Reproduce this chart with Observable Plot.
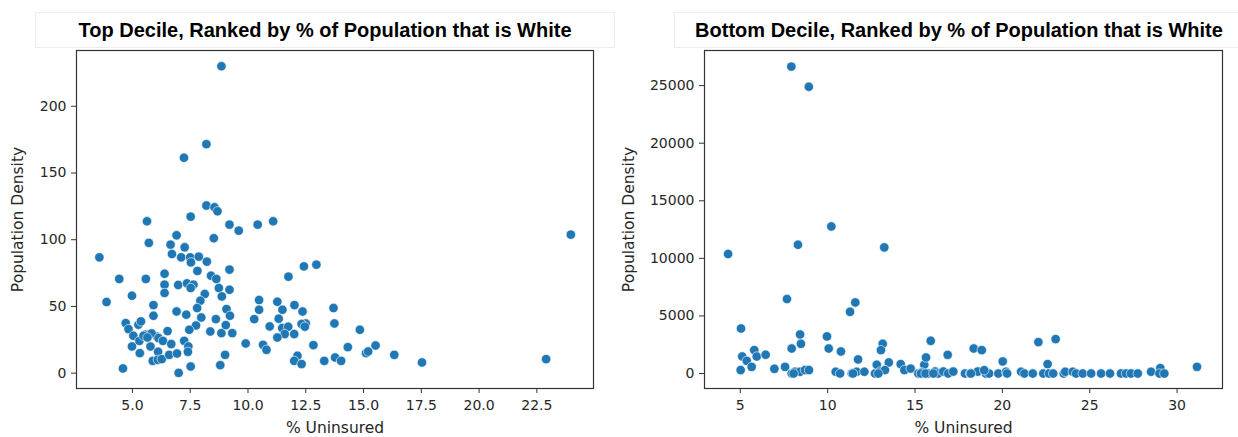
<!DOCTYPE html>
<html>
<head>
<meta charset="utf-8">
<script src="https://cdn.jsdelivr.net/npm/d3@7"></script>
<script src="https://cdn.jsdelivr.net/npm/@observablehq/plot@0.6"></script>
<style>
  html, body { margin: 0; padding: 0; background: #fff; }
  #wrap { position: relative; width: 1238px; height: 437px; overflow: hidden; }
  .panel { position: absolute; top: 0; }
  .title { position: absolute; top: 12px; height: 36px; border: 1px solid #ececec;
           font: bold 20px "Liberation Sans", Arial, sans-serif; line-height: 34px; color: #000; text-align: center; box-sizing: border-box; }
</style>
</head>
<body>
<div id="wrap"></div>
<script>
// ---- data: Top decile (left panel) ----
const topUninsured = [8.85,8.2,7.23,8.2,8.55,8.68,7.52,5.63,9.2,9.6,10.42,11.09,6.91,8.52,5.71,6.65,7.26,6.71,7.11,7.5,7.87,7.53,8.22,3.57,9.2,7.81,6.39,4.43,5.58,8.4,8.63,6.39,6.98,7.36,7.64,7.52,8.74,9.2,6.39,8.13,8.87,4.98,3.88,5.91,7.94,7.8,6.91,9.07,7.33,5.91,7.98,9.22,8.61,10.48,10.48,10.27,11.27,11.49,11.33,12.01,12.36,11.75,12.42,12.96,13.7,13.74,12.5,12.32,10.94,11.48,11.74,11.59,12.0,11.27,9.9,10.65,10.8,12.83,12.14,12.0,12.32,13.3,13.77,14.03,14.32,14.84,15.11,15.2,15.52,16.33,17.53,22.9,23.97,9.32,8.85,8.37,9.04,7.75,7.46,6.52,6.06,5.58,5.26,4.71,4.83,5.37,5.04,5.3,5.83,4.98,5.32,5.78,6.13,6.32,6.68,7.24,7.42,6.11,5.88,6.1,6.27,6.59,6.93,7.4,7.52,7.0,4.59,8.8,9.01,5.48,12.46,5.65];
const topDensity   = [230,171.6,161.4,125.6,124.3,121.3,117.3,113.8,111.3,106.8,111.3,113.8,103.3,101.1,97.6,96.3,94.3,89.3,86.8,86.8,87.3,83.0,83.6,86.8,77.6,76.6,74.5,70.6,70.6,73.0,70.6,66.3,66.1,67.3,66.3,63.8,63.8,62.5,60.1,59.3,57.5,58.0,53.3,51.0,54.3,48.8,46.2,48.0,43.8,43.0,41.7,43.0,40.5,54.8,47.5,40.5,53.5,47.5,40.8,51.0,46.2,72.3,80.0,81.3,48.8,37.2,37.2,36.8,35.0,33.8,34.8,29.3,29.3,26.7,22.2,21.2,17.5,21.0,13.0,9.2,6.8,9.2,11.7,9.2,19.5,32.5,15.0,16.2,20.7,13.7,8.0,10.5,103.8,30.0,30.0,31.2,36.0,35.7,32.5,31.5,27.3,28.8,36.3,37.5,33.0,38.8,28.0,24.2,29.8,20.0,15.0,20.0,26.3,24.2,21.8,24.2,20.0,16.0,9.2,10.0,10.5,13.7,14.7,16.0,5.0,0.2,3.5,6.0,13.7,28.0,34.8,26.7];

// ---- data: Bottom decile (right panel) ----
const botUninsured = [7.92,8.92,10.21,8.3,13.24,4.3,7.67,11.58,11.28,5.04,8.42,8.47,7.94,9.96,10.06,10.76,11.74,13.15,13.05,13.5,5.11,5.37,5.8,5.94,6.45,5.02,5.65,6.95,7.56,7.94,8.13,8.42,8.7,8.93,10.46,10.71,11.38,11.66,12.1,12.71,12.81,13.0,13.28,14.18,14.39,14.75,15.19,15.53,15.63,15.38,15.9,15.76,16.15,16.33,16.62,16.87,16.9,17.19,17.86,18.15,18.36,18.59,18.82,19.05,19.24,19.77,20.02,20.21,20.27,21.07,21.26,21.74,22.06,22.34,22.59,22.67,22.91,23.05,23.51,23.6,24.03,24.22,24.6,25.08,25.65,26.16,26.79,27.08,27.36,27.75,28.51,29.04,28.99,29.27,31.14,15.34,15.6,16.05,18.2,18.96,8.05,11.45,12.9];
const botDensity   = [26650,24900,12770,11180,10950,10380,6470,6170,5360,3910,3390,2580,2170,3220,2170,1910,1220,2580,2030,960,1480,1100,2030,1480,1630,300,580,410,580,0,150,150,300,300,150,0,0,150,150,0,760,170,300,820,300,430,0,760,1390,90,2840,0,170,0,170,1620,0,170,0,0,2170,170,2030,0,0,0,1050,150,0,150,0,0,2730,0,820,0,0,2990,0,150,150,0,0,0,0,0,0,0,0,0,150,470,0,0,580,0,0,0,0,290,0,0,0];

const xTicksTop = [5, 7.5, 10, 12.5, 15, 17.5, 20, 22.5];
const yTicksTop = [0, 50, 100, 150, 200];
const xTicksBot = [5, 10, 15, 20, 25, 30];
const yTicksBot = [0, 5000, 10000, 15000, 20000, 25000];

const titles = ["Top Decile, Ranked by % of Population that is White",
                "Bottom Decile, Ranked by % of Population that is White"];
const xLabel = "% Uninsured";
const yLabel = "Population Density";

const dotColor = "#1f77b4";
const inkColor = "#262626";

function panel({xs, ys, xDomain, yDomain, xTicks, yTicks, xFmt, width, ml, mr, yLabelDx}) {
  const data = xs.map((x, i) => ({x, y: ys[i]}));
  return Plot.plot({
    width, height: 437,
    marginLeft: ml, marginRight: mr, marginTop: 50, marginBottom: 49,
    style: {fontFamily: "DejaVu Sans, sans-serif", fontSize: "14px", color: inkColor, background: "#fff"},
    x: {domain: xDomain},
    y: {domain: yDomain},
    marks: [
      Plot.dot(data, {x: "x", y: "y", r: 4.7, fill: dotColor, stroke: "#fff", strokeWidth: 0.6, fillOpacity: 1}),
      Plot.frame({stroke: "#333", strokeWidth: 1.2}),
      Plot.axisX({ticks: xTicks, tickFormat: xFmt, tickSize: 5, tickPadding: 7, label: null, stroke: "#333", fill: inkColor}),
      Plot.axisY({ticks: yTicks, tickFormat: d => String(d), tickSize: 5, tickPadding: 5, label: null, stroke: "#333", fill: inkColor}),
      Plot.text([xLabel], {frameAnchor: "bottom", dy: 40, text: d => d, fontSize: 15.5, fill: inkColor, textAnchor: "middle", lineAnchor: "middle"}),
      Plot.text([yLabel], {frameAnchor: "left", dx: yLabelDx, rotate: -90, text: d => d, fontSize: 15.5, fill: inkColor, textAnchor: "middle", lineAnchor: "middle"})
    ]
  });
}

const wrap = document.getElementById("wrap");

const left = panel({
  xs: topUninsured, ys: topDensity,
  xDomain: [2.58, 24.95], yDomain: [-11.5, 241.8],
  xTicks: xTicksTop, yTicks: yTicksTop, xFmt: d => d.toFixed(1),
  width: 620, ml: 76, mr: 27, yLabelDx: -58
});
left.classList.add("panel"); left.style.left = "0px";
wrap.appendChild(left);

const right = panel({
  xs: botUninsured, ys: botDensity,
  xDomain: [2.95, 32.6], yDomain: [-1300, 28050],
  xTicks: xTicksBot, yTicks: yTicksBot, xFmt: d => String(d),
  width: 618, ml: 84, mr: 16, yLabelDx: -75
});
right.classList.add("panel"); right.style.left = "620px";
wrap.appendChild(right);

[[titles[0], 35, 580], [titles[1], 674, 570]].forEach(([t, l, w]) => {
  const d = document.createElement("div");
  d.className = "title";
  d.style.left = l + "px";
  d.style.width = w + "px";
  d.textContent = t;
  wrap.appendChild(d);
});
</script>
</body>
</html>
